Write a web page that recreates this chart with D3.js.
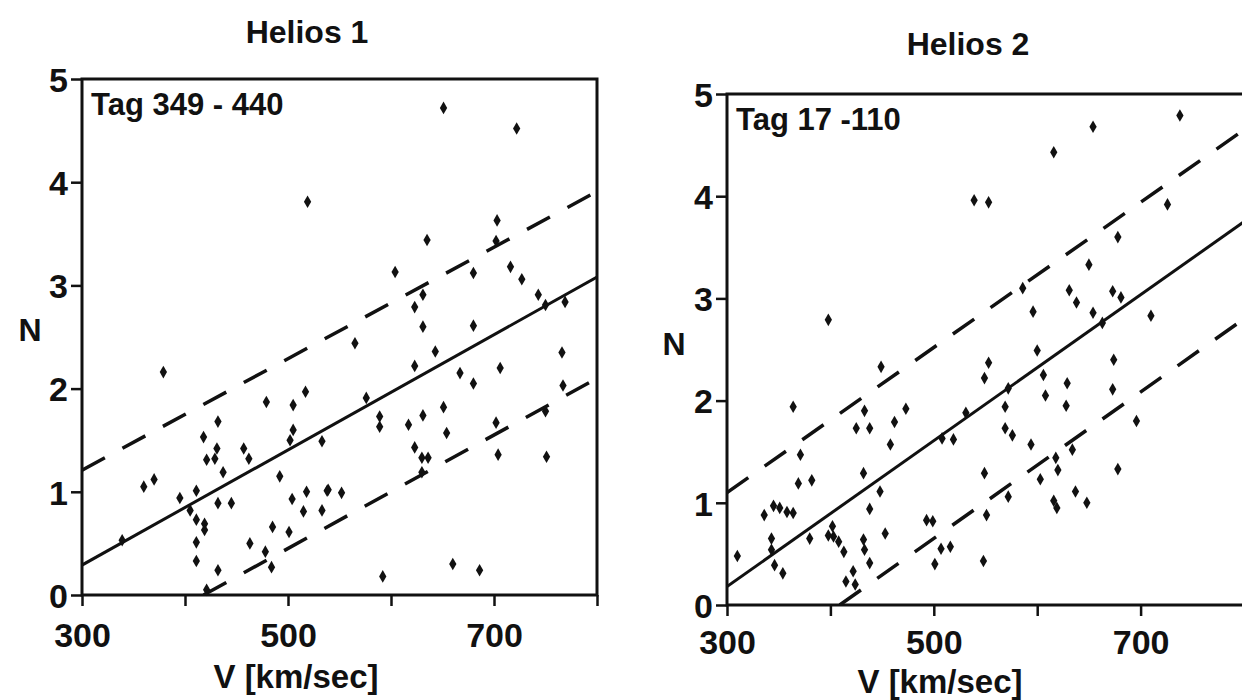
<!DOCTYPE html>
<html>
<head>
<meta charset="utf-8">
<script src="https://cdn.jsdelivr.net/npm/d3@7"></script>
<style>
  body { margin: 0; background: #fff; }
  svg text { font-family: "Liberation Sans", "DejaVu Sans", sans-serif; fill: #111; font-weight: bold; }
</style>
</head>
<body>
<div id="chart"></div>
<script>
// Helios 1, Tag 349 - 440 : [V km/sec, N]
var helios1Points = [
  [519,3.81],[651,4.72],[722,4.52],[703,3.63],[635,3.44],[702,3.43],[604,3.13],[680,3.12],[716,3.18],
  [727,3.06],[743,2.91],[750,2.81],[769,2.84],[631,2.91],[623,2.79],[631,2.60],[680,2.61],
  [379,2.16],[360,1.05],[370,1.12],[339,0.53],[395,0.94],[411,1.01],[405,0.82],[411,0.73],[419,0.69],
  [419,0.63],[411,0.51],[411,0.33],[432,0.24],[421,0.05],[418,1.53],[432,1.68],[421,1.31],[429,1.32],
  [431,1.42],[437,1.19],[432,0.89],[445,0.89],[457,1.42],[462,1.32],[463,0.50],[479,1.87],[505,1.84],
  [517,1.97],[505,1.60],[502,1.50],[533,1.49],[492,1.15],[504,0.93],[518,1.00],[538,1.01],[515,0.81],
  [533,0.82],[485,0.66],[501,0.61],[478,0.42],[484,0.27],
  [565,2.44],[643,2.36],[623,2.22],[576,1.91],[667,2.15],[680,2.05],[706,2.20],[766,2.35],[767,2.03],
  [589,1.73],[589,1.63],[617,1.65],[631,1.74],[651,1.82],[654,1.57],[623,1.43],[630,1.33],[636,1.33],
  [630,1.19],[702,1.67],[750,1.78],[704,1.36],[751,1.34],[539,1.02],[552,0.99],[592,0.18],[660,0.30],
  [686,0.24]
];

// Helios 2, Tag 17 - 110
var helios2Points = [
  [398,2.79],[654,4.68],[738,4.79],[616,4.43],[539,3.96],[553,3.94],[726,3.92],[678,3.60],[650,3.33],
  [586,3.10],[631,3.08],[638,2.96],[673,3.07],[681,3.01],[596,2.87],[654,2.86],[663,2.76],[710,2.83],
  [600,2.49],[553,2.37],[549,2.22],[674,2.40],[606,2.25],[629,2.17],[673,2.11],[572,2.12],[608,2.05],
  [628,1.95],[531,1.88],[569,1.94],[569,1.73],[576,1.66],[594,1.57],[696,1.80],[508,1.63],[519,1.62],
  [634,1.52],[618,1.44],[620,1.32],[603,1.23],[549,1.29],[678,1.33],[572,1.06],[637,1.11],[648,1.00],
  [616,1.02],[619,0.95],[551,0.88],[516,0.57],[507,0.55],[548,0.43],
  [364,1.94],[449,2.33],[433,1.90],[473,1.92],[425,1.73],[438,1.73],[462,1.79],[458,1.57],[371,1.47],
  [369,1.19],[382,1.22],[432,1.29],[448,1.11],[438,0.94],[336,0.88],[345,0.97],[351,0.95],[358,0.91],
  [364,0.90],[343,0.65],[343,0.54],[346,0.39],[354,0.31],[380,0.65],[398,0.68],[402,0.77],[403,0.67],
  [408,0.62],[413,0.52],[432,0.64],[433,0.54],[438,0.41],[422,0.33],[415,0.23],[424,0.20],[453,0.70],
  [493,0.83],[499,0.82],[501,0.40],[310,0.48]
];

// fit line and band, endpoints in [V, N]
var helios1Fit   = [[300,0.29],[800,3.08]];
var helios1Upper = [[300,1.21],[800,3.91]];
var helios1Lower = [[418,0.00],[800,2.10]];
var helios2Fit   = [[300,0.18],[800,3.75]];
var helios2Upper = [[300,1.10],[800,4.65]];
var helios2Lower = [[409,0.00],[800,2.80]];

var vTicks = [300, 400, 500, 600, 700, 800];
var vLabels = [300, 500, 700];
var nTicks = [0, 1, 2, 3, 4, 5];

var svg = d3.select("#chart").append("svg")
    .attr("width", 1242)
    .attr("height", 700);

function drawPanel(p) {
    var x = d3.scaleLinear().domain([300, 800]).range([p.left, p.right]);
    var y = d3.scaleLinear().domain([0, 5]).range([p.bottom, p.top]);

    var g = svg.append("g");

    //frame
    g.append("rect")
        .attr("x", x(300)).attr("y", y(5))
        .attr("width", x(800) - x(300)).attr("height", y(0) - y(5))
        .attr("fill", "none").attr("stroke", "#111").attr("stroke-width", 3);

    //axes
    var xAxis = d3.axisBottom(x).tickValues(vTicks).tickSize(11).tickPadding(p.xPad)
        .tickFormat(function(d) { return vLabels.indexOf(d) >= 0 ? d : ""; });
    var yAxis = d3.axisLeft(y).tickValues(nTicks).tickSize(11).tickPadding(3)
        .tickFormat(d3.format("d"));

    var gx = g.append("g").attr("transform", "translate(0," + y(0) + ")").call(xAxis);
    var gy = g.append("g").attr("transform", "translate(" + x(300) + ",0)").call(yAxis);
    [gx, gy].forEach(function(a) {
        a.select(".domain").remove();
        a.selectAll("line").attr("stroke", "#111").attr("stroke-width", 2.5);
        a.selectAll("text").attr("font-size", 34).attr("fill", "#111")
            .style("font-family", "'Liberation Sans', 'DejaVu Sans', sans-serif")
            .style("font-weight", "bold");
    });
    gx.selectAll("text").attr("dy", "0.85em");
    gy.selectAll("text").attr("dy", "0.36em");

    //clip so lines stay in the box
    g.append("clipPath").attr("id", p.id)
        .append("rect")
        .attr("x", x(300)).attr("y", y(5))
        .attr("width", x(800) - x(300)).attr("height", y(0) - y(5));

    var line = d3.line().x(function(d) { return x(d[0]); }).y(function(d) { return y(d[1]); });
    var lines = g.append("g").attr("clip-path", "url(#" + p.id + ")");

    lines.append("path").datum(p.fit).attr("d", line)
        .attr("fill", "none").attr("stroke", "#111").attr("stroke-width", 3);
    [p.upper, p.lower].forEach(function(l) {
        lines.append("path").datum(l).attr("d", line)
            .attr("fill", "none").attr("stroke", "#111").attr("stroke-width", 3.5)
            .attr("stroke-dasharray", "26,20");
    });

    //points
    g.append("g").selectAll("path.pt")
        .data(p.points)
        .enter().append("path")
        .attr("class", "pt")
        .attr("d", d3.symbol().type(d3.symbolDiamond).size(46))
        .attr("transform", function(d) { return "translate(" + x(d[0]) + "," + y(d[1]) + ")"; })
        .attr("fill", "#111");

    //texts
    g.append("text").attr("x", x(300) + 9).attr("y", y(5) + 36)
        .attr("font-size", 31).text(p.tag);
    g.append("text").attr("x", p.titleX).attr("y", p.titleY)
        .attr("text-anchor", "middle").attr("font-size", 32).text(p.title);
    g.append("text").attr("x", p.nX).attr("y", p.nY)
        .attr("text-anchor", "middle").attr("font-size", 32).text("N");
    g.append("text").attr("x", p.vX).attr("y", p.vY)
        .attr("text-anchor", "middle").attr("font-size", 33).text("V [km/sec]");
}

drawPanel({
    id: "clip1", left: 82, right: 597, top: 79, bottom: 595,
    points: helios1Points, fit: helios1Fit, upper: helios1Upper, lower: helios1Lower,
    tag: "Tag 349 - 440", title: "Helios 1", titleX: 307, titleY: 43,
    nX: 30, nY: 341, vX: 296, vY: 688, xPad: 12
});

drawPanel({
    id: "clip2", left: 727, right: 1244, top: 94, bottom: 605,
    points: helios2Points, fit: helios2Fit, upper: helios2Upper, lower: helios2Lower,
    tag: "Tag 17 -110", title: "Helios 2", titleX: 968, titleY: 55,
    nX: 674, nY: 355, vX: 940, vY: 693, xPad: 9
});
</script>
</body>
</html>
